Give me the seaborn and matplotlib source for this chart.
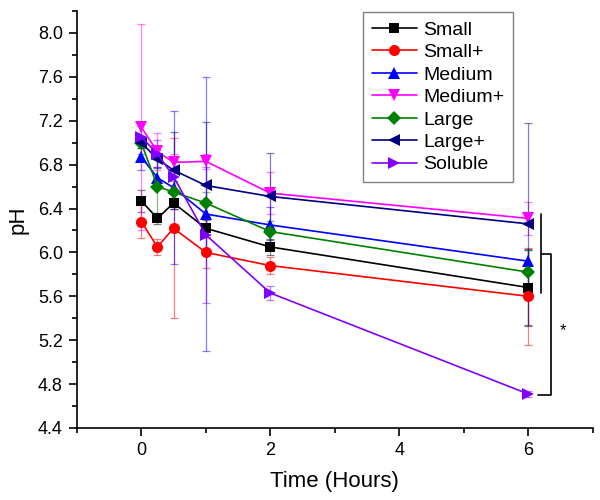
"""pH over time for the particle-size series, with SD bars and a significance bracket."""

import matplotlib

matplotlib.use("Agg")

import matplotlib.pyplot as plt
import numpy as np
import pandas as pd
import seaborn as sns
from matplotlib.lines import Line2D
from matplotlib.ticker import FormatStrFormatter, MultipleLocator

HOURS = [0, 0.25, 0.5, 1, 2, 6]
SERIES = ["Small", "Small+", "Medium", "Medium+", "Large", "Large+", "Soluble"]

SMALL = [6.47, 6.31, 6.45, 6.22, 6.05, 5.68]
SMALL_PLUS = [6.28, 6.05, 6.22, 6.00, 5.88, 5.60]
MEDIUM = [6.87, 6.68, 6.59, 6.35, 6.25, 5.92]
MEDIUM_PLUS = [7.14, 6.92, 6.82, 6.83, 6.54, 6.31]
LARGE = [7.00, 6.60, 6.55, 6.45, 6.19, 5.82]
LARGE_PLUS = [7.00, 6.85, 6.75, 6.61, 6.51, 6.26]
SOLUBLE = [7.05, 6.90, 6.69, 6.16, 5.63, 4.71]

SMALL_SD = [0.10, 0.05, 0.05, 0.08, 0.07, 0.35]
SMALL_PLUS_SD = [0.15, 0.07, 0.82, 0.14, 0.08, 0.44]
MEDIUM_SD = [0.12, 0.10, 0.70, 1.25, 0.16, 0.10]
MEDIUM_PLUS_SD = [0.94, 0.17, 0.08, 0.07, 0.19, 0.15]
LARGE_SD = [0.05, 0.25, 0.10, 0.10, 0.10, 0.20]
LARGE_PLUS_SD = [0.05, 0.08, 0.35, 0.58, 0.40, 0.92]
SOLUBLE_SD = [0.15, 0.12, 0.15, 0.62, 0.06, 0.03]

VALUES = [SMALL, SMALL_PLUS, MEDIUM, MEDIUM_PLUS, LARGE, LARGE_PLUS, SOLUBLE]
ERRORS = [SMALL_SD, SMALL_PLUS_SD, MEDIUM_SD, MEDIUM_PLUS_SD, LARGE_SD, LARGE_PLUS_SD, SOLUBLE_SD]

COLORS = ["#000000", "#FF0000", "#0000FF", "#FF00FF", "#008000", "#000080", "#8000FF"]
MARKERS = ["s", "o", "^", "v", "D", "<", ">"]
SIZES = [7, 8, 8, 8, 7, 8, 8]


def main() -> None:
  sns.set_style("ticks", {
    "xtick.color" : "black",
    "ytick.color" : "black",
    "axes.labelcolor" : "black",
    "text.color" : "black",
    "axes.edgecolor" : "black",
  })
  plt.rcParams["font.family"] = ["Liberation Sans", "DejaVu Sans"]

  frame = pd.DataFrame({
    "Time" : np.tile(HOURS, len(SERIES)),
    "pH" : np.concatenate(VALUES),
    "Series" : np.repeat(SERIES, len(HOURS)),
  })

  fig = plt.figure(figsize = (6, 5), dpi = 100)
  ax = fig.add_axes([0.128, 0.144, 0.86, 0.834])

  for values, errors, color in zip(VALUES, ERRORS, COLORS) :
    ax.errorbar(HOURS, values, yerr = errors, fmt = "none", ecolor = color, alpha = 0.5,
                elinewidth = 0.9, capsize = 3, capthick = 0.9, zorder = 1)

  palette = dict(zip(SERIES, COLORS))
  for name, marker, size in zip(SERIES, MARKERS, SIZES) :
    sns.lineplot(data = frame[frame["Series"] == name], x = "Time", y = "pH", ax = ax,
                 color = palette[name], marker = marker, markersize = size,
                 markeredgewidth = 0, linewidth = 1.2, legend = False, zorder = 3)

  # significance brackets at the 6 h mark
  last = [values[-1] for values in VALUES]
  others = last[:-1]
  top = max(others) + 0.04
  bottom = min(others) + 0.03
  mid = (top + bottom) / 2
  x0 = HOURS[-1]
  ax.plot([x0 + 0.2, x0 + 0.2], [top, bottom], color = "black", linewidth = 1.2, zorder = 4)
  ax.plot([x0 + 0.2, x0 + 0.35, x0 + 0.35, x0 + 0.15],
          [mid, mid, last[-1] - 0.01, last[-1] - 0.01], color = "black", linewidth = 1.2, zorder = 4)
  ax.text(x0 + 0.54, (mid + last[-1]) / 2 - 0.06, "*", fontsize = 12, ha = "center", va = "center")

  ax.set_xlim(-1, 7)
  ax.set_ylim(4.4, 8.2)
  ax.xaxis.set_major_locator(MultipleLocator(2))
  ax.xaxis.set_minor_locator(MultipleLocator(1))
  ax.set_yticks(np.arange(4.4, 8.01, 0.4))
  ax.yaxis.set_minor_locator(MultipleLocator(0.2))
  ax.yaxis.set_major_formatter(FormatStrFormatter("%.1f"))
  ax.tick_params(which = "major", direction = "out", length = 6, width = 1.2, labelsize = 13, pad = 4)
  ax.tick_params(which = "minor", direction = "out", length = 3.5, width = 1.2)
  for side in ["left", "bottom"] :
    ax.spines[side].set_linewidth(1.2)
  sns.despine(ax = ax)

  ax.set_xlabel("Time (Hours)", fontsize = 16, labelpad = 9)
  ax.set_ylabel("pH", fontsize = 16, labelpad = 7)

  handles = [
    Line2D([], [], color = color, marker = marker, markersize = size, markeredgewidth = 0, linewidth = 1.2)
    for color, marker, size in zip(COLORS, MARKERS, SIZES)
  ]
  legend = ax.legend(handles, SERIES, loc = "upper left", bbox_to_anchor = (0.555, 0.997),
                     borderaxespad = 0, fontsize = 14, fancybox = False, framealpha = 1,
                     edgecolor = "#808080", handlelength = 2.3, labelspacing = 0.25,
                     handletextpad = 0.35, borderpad = 0.45)
  legend.get_frame().set_linewidth(1)

  fig.savefig("out.png", dpi = 100)
  plt.close(fig)


if __name__ == "__main__" :
  main()
